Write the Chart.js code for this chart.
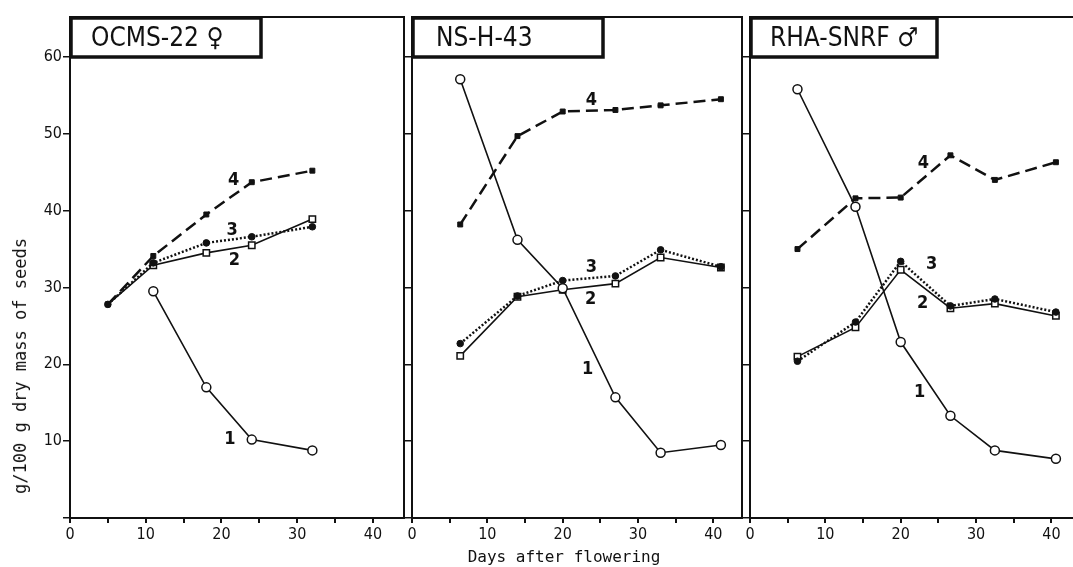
<!DOCTYPE html>
<html>
<head>
<meta charset="utf-8">
<script src="https://cdn.jsdelivr.net/npm/chart.js@4.4.0/dist/chart.umd.min.js"></script>
<style>
  html, body { margin: 0; padding: 0; background: #fff; }
  #wrap { position: relative; width: 1073px; height: 567px; overflow: hidden; background: #fff; }
  canvas { position: absolute; top: 0; }
  #c1 { left: 0; }
  #c2 { left: 405px; }
  #c3 { left: 743px; }
  .ytitle {
    position: absolute; left: 20px; top: 366px;
    transform: translate(-50%, -50%) rotate(-90deg);
    font: 17px "DejaVu Sans Mono", monospace; white-space: nowrap; color: #111;
  }
  .xtitle {
    position: absolute; left: 564px; top: 556px;
    transform: translate(-50%, -50%);
    font: 16px "DejaVu Sans Mono", monospace; white-space: nowrap; color: #111;
  }
</style>
</head>
<body>
<div id="wrap">
  <canvas id="c1" width="410" height="567"></canvas>
  <canvas id="c2" width="343" height="567"></canvas>
  <canvas id="c3" width="340" height="567"></canvas>
  <div class="ytitle">g/100 g dry mass of seeds</div>
  <div class="xtitle">Days after flowering</div>
</div>
<script>
// days after flowering (x) for each cultivar
const daysA = [5, 11, 18, 24, 32];
const daysB = [6.4, 14, 20, 27, 33, 41];
const daysC = [6.3, 14, 20, 26.6, 32.5, 40.6];

// OCMS-22 ♀
const a1 = [null, 29.5, 17.0, 10.2, 8.8];
const a2 = [27.8, 32.9, 34.5, 35.5, 38.9];
const a3 = [27.8, 33.2, 35.8, 36.6, 37.9];
const a4 = [27.8, 34.1, 39.5, 43.7, 45.2];

// NS-H-43
const b1 = [57.1, 36.2, 29.9, 15.7, 8.5, 9.5];
const b2 = [21.1, 28.8, 29.7, 30.5, 33.9, 32.6];
const b3 = [22.7, 28.9, 30.9, 31.5, 34.9, 32.7];
const b4 = [38.2, 49.7, 52.9, 53.1, 53.7, 54.5];

// RHA-SNRF ♂
const c1 = [55.8, 40.5, 22.9, 13.3, 8.8, 7.7];
const c2 = [21.0, 24.8, 32.3, 27.3, 27.9, 26.3];
const c3 = [20.4, 25.5, 33.4, 27.6, 28.5, 26.8];
const c4 = [35.0, 41.6, 41.7, 47.2, 44.0, 46.3];

// curve number labels, placed in data units
const curveNames = ["1", "2", "3", "4"];
const labelXA = [21.1, 21.7, 21.4, 21.6];
const labelYA = [10.2, 33.5, 37.5, 44.0];
const labelXB = [23.3, 23.7, 23.8, 23.8];
const labelYB = [19.3, 28.4, 32.6, 54.4];
const labelXC = [22.5, 22.9, 24.1, 23.0];
const labelYC = [16.3, 28.0, 33.0, 46.2];

const yTicks = [10, 20, 30, 40, 50, 60];
const xLabelTicks = [0, 10, 20, 30, 40];

const INK = "#111";
const TICK_FONT = { family: "'DejaVu Sans Condensed', 'Liberation Sans Narrow', 'DejaVu Sans', sans-serif", size: 16 };

function pts(days, vals) {
  return days.map((d, i) => ({ x: d, y: vals[i] })).filter((p) => p.y !== null);
}

function curves(days, v1, v2, v3, v4, firstRadius2) {
  return [
    {
      data: pts(days, v4), borderColor: INK, borderWidth: 2.5, borderDash: [12, 6],
      pointStyle: "rect", pointRadius: 3.5, backgroundColor: INK, pointBorderWidth: 1, order: 4,
    },
    {
      data: pts(days, v2), borderColor: INK, borderWidth: 1.6,
      pointStyle: "rect", pointRadius: days.map((d, i) => (i === 0 ? firstRadius2 : 4.5)),
      backgroundColor: "#fff", pointBorderWidth: 1.5, order: 3,
    },
    {
      data: pts(days, v3), borderColor: INK, borderWidth: 2.5, borderDash: [2, 2],
      pointStyle: "circle", pointRadius: 3.3, backgroundColor: INK, pointBorderWidth: 1, order: 2,
    },
    {
      data: pts(days, v1), borderColor: INK, borderWidth: 1.6,
      pointStyle: "circle", pointRadius: 4.5, backgroundColor: "#fff", pointBorderWidth: 1.5, order: 1,
    },
  ];
}

const framePlugin = {
  id: "frame",
  beforeDatasetsDraw(chart, args, opts) {
    const { ctx, chartArea: a } = chart;
    ctx.save();
    ctx.strokeStyle = INK;
    ctx.lineWidth = 2;
    ctx.strokeRect(a.left, a.top, a.right - a.left, a.bottom - a.top);
    // title box
    ctx.fillStyle = "#fff";
    ctx.fillRect(a.left, a.top, opts.boxWidth, 40);
    ctx.lineWidth = 3.5;
    ctx.strokeRect(a.left + 1, a.top + 1, opts.boxWidth, 39);
    ctx.fillStyle = INK;
    ctx.font = "26px 'DejaVu Sans Condensed', 'DejaVu Sans', sans-serif";
    ctx.textBaseline = "middle";
    ctx.fillText(opts.title, a.left + opts.textOffset, a.top + 22);
    ctx.restore();
  },
  afterDatasetsDraw(chart, args, opts) {
    const { ctx, scales } = chart;
    ctx.save();
    ctx.fillStyle = INK;
    ctx.font = "bold 18px 'DejaVu Sans Condensed', 'DejaVu Sans', sans-serif";
    ctx.textAlign = "center";
    ctx.textBaseline = "middle";
    opts.lx.forEach((x, i) => {
      ctx.fillText(curveNames[i], scales.x.getPixelForValue(x), scales.y.getPixelForValue(opts.ly[i]));
    });
    ctx.restore();
  },
};

function makePanel(id, days, series, xMax, showY, frame, firstRadius2) {
  new Chart(document.getElementById(id), {
    type: "line",
    data: { datasets: curves(days, ...series, firstRadius2) },
    plugins: [framePlugin],
    options: {
      responsive: false,
      animation: false,
      events: [],
      layout: { padding: { left: 0, right: 5, top: 17, bottom: 0 } },
      plugins: { legend: { display: false }, tooltip: { enabled: false }, frame },
      scales: {
        x: {
          type: "linear", min: 0, max: xMax,
          border: { display: true, color: INK, width: 2 },
          grid: { drawOnChartArea: false, drawTicks: true, tickLength: 5, color: INK, lineWidth: 2 },
          ticks: {
            stepSize: 5, includeBounds: false, maxRotation: 0, autoSkip: false,
            color: INK, font: TICK_FONT, padding: 2,
            callback: (v) => (xLabelTicks.includes(v) ? String(v) : ""),
          },
          afterFit: (s) => { s.height = 49; },
        },
        y: {
          type: "linear", min: 0, max: 65.2,
          border: { display: true, color: INK, width: 2 },
          grid: { drawOnChartArea: false, drawTicks: true, tickLength: 7, color: INK, lineWidth: 1.5 },
          ticks: {
            stepSize: 10, includeBounds: false, display: showY,
            color: INK, font: TICK_FONT, padding: 1,
            callback: (v) => (yTicks.includes(v) ? String(v) : ""),
          },
          afterFit: (s) => { s.width = showY ? 70 : 7; },
        },
      },
    },
  });
}

makePanel("c1", daysA, [a1, a2, a3, a4], 44.1, true,
  { title: "OCMS-22 \u2640", boxWidth: 190, textOffset: 21, lx: labelXA, ly: labelYA }, 0);
makePanel("c2", daysB, [b1, b2, b3, b4], 43.8, false,
  { title: "NS-H-43", boxWidth: 190, textOffset: 24, lx: labelXB, ly: labelYB }, 4.5);
makePanel("c3", daysC, [c1, c2, c3, c4], 43.4, false,
  { title: "RHA-SNRF \u2642", boxWidth: 186, textOffset: 20, lx: labelXC, ly: labelYC }, 4.5);
</script>
</body>
</html>
